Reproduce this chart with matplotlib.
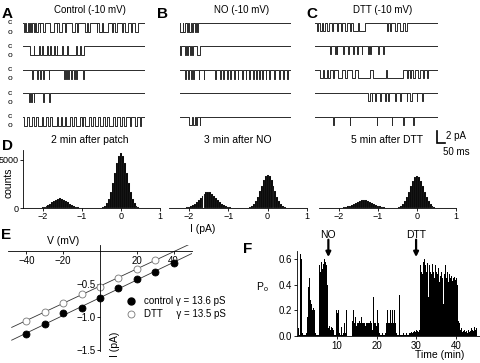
import numpy as np
import matplotlib
matplotlib.use("Agg")
import matplotlib.pyplot as plt
from matplotlib.lines import Line2D

plt.rcParams['font.family'] = ['Liberation Sans', 'DejaVu Sans']
plt.rcParams['mathtext.fontset'] = 'custom'
plt.rcParams['mathtext.rm'] = 'Liberation Sans'
plt.rcParams['mathtext.it'] = 'Liberation Sans:italic'
plt.rcParams['axes.linewidth'] = 0.6

# ---- A-C: single channel sweeps, open intervals in ms (sweep = 750 ms)
sweep_ms = 750
amp_control, amp_no, amp_dtt = -1.55, -1.5, -1.35

control_sweeps = [
    [(4, 12), (20, 29), (37, 41), (49, 57), (65, 71), (82, 90), (102, 106), (126, 133),
     (167, 188), (208, 212), (224, 239), (259, 263), (300, 320), (335, 339), (381, 396),
     (402, 412), (453, 457), (469, 483), (490, 524), (545, 551), (565, 579), (606, 616),
     (626, 647), (667, 673), (688, 708)],
    [(45, 65), (69, 96), (102, 116), (122, 147), (153, 167), (171, 188), (194, 208),
     (212, 239), (245, 269), (275, 326), (330, 351), (357, 375)],
    [(55, 60), (86, 91), (106, 110), (122, 127), (157, 162), (249, 259), (265, 271),
     (279, 284), (294, 300), (314, 319), (326, 331), (371, 376)],
    [(35, 45), (49, 55), (65, 69), (126, 130), (157, 163)],
    [(8, 24), (35, 55), (65, 82), (90, 116), (126, 143), (151, 167), (177, 208), (218, 233),
     (241, 259), (265, 290), (300, 314), (326, 351), (361, 371), (381, 408), (416, 432),
     (443, 463), (473, 494), (504, 518), (530, 555), (565, 575), (596, 606), (620, 636),
     (657, 667), (688, 698), (718, 728)],
]
no_sweeps = [
    [(0, 18), (23, 34), (45, 57), (64, 73), (79, 91), (102, 107), (118, 123)],
    [(0, 5), (34, 41), (50, 54), (68, 75), (84, 88), (118, 132)],
    [(34, 39), (57, 61), (73, 78), (91, 96), (125, 130), (159, 165), (238, 243), (272, 277),
     (291, 297), (318, 326), (341, 346), (363, 370), (390, 395), (420, 426), (443, 448),
     (465, 471), (495, 500), (511, 518), (534, 539), (556, 563), (579, 584), (602, 608),
     (636, 641), (670, 676), (699, 704), (722, 727)],
    [],
    [(64, 79), (91, 102), (109, 118), (132, 136)],
]
dtt_sweeps = [
    [(10, 20), (30, 41), (51, 61), (75, 87), (102, 112), (132, 142), (156, 162), (183, 193),
     (213, 217), (233, 262), (266, 304), (436, 446), (457, 463), (487, 501), (518, 538),
     (548, 562)],
    [(91, 95), (122, 126), (132, 136), (173, 177), (203, 207), (233, 237), (258, 262),
     (284, 288), (325, 329), (335, 339), (386, 390), (416, 420)],
    [(30, 47), (55, 71), (81, 91), (112, 118), (142, 162), (183, 193), (223, 243), (264, 335),
     (355, 430), (436, 538), (558, 568), (578, 584), (599, 609), (629, 639), (660, 666),
     (680, 690)],
    [(325, 335), (345, 350), (365, 370), (396, 401), (426, 431), (447, 452), (487, 492),
     (518, 523), (558, 563), (579, 589), (619, 624), (650, 660)],
    [(112, 115), (213, 216), (376, 379), (467, 470), (538, 541), (599, 602)],
]

# ---- D: amplitude histograms, bins of 0.05 pA from -2.5 to 1.0
hist_start, hist_step = -2.5, 0.05
hist_patch = [0, 0, 0, 0, 0, 1, 3, 7, 15, 31,
              60, 109, 183, 287, 421, 575, 732, 871, 966, 1000,
              966, 871, 732, 575, 421, 287, 183, 109, 60, 31,
              15, 7, 3, 1, 0, 0, 0, 2, 5, 15,
              43, 109, 250, 521, 982, 1683, 2610, 3675, 4690, 5430,
              5700, 5430, 4690, 3675, 2610, 1683, 982, 521, 250, 109,
              43, 15, 5, 2, 0, 0, 0, 0, 0, 0,
              0]
hist_no = [0, 0, 0, 0, 1, 3, 6, 14, 28, 54,
           98, 168, 272, 417, 602, 822, 1061, 1294, 1491, 1624,
           1670, 1624, 1491, 1294, 1061, 822, 602, 417, 272, 168,
           98, 54, 28, 14, 6, 3, 1, 2, 7, 18,
           46, 104, 216, 413, 725, 1167, 1722, 2331, 2893, 3294,
           3440, 3294, 2893, 2331, 1722, 1167, 725, 413, 216, 104,
           46, 18, 7, 2, 0, 0, 0, 0, 0, 0,
           0]
hist_dtt = [0, 0, 0, 0, 0, 0, 0, 1, 3, 5,
            11, 20, 36, 63, 102, 159, 234, 328, 435, 549,
            658, 749, 809, 830, 809, 749, 658, 549, 435, 328,
            234, 159, 102, 63, 36, 20, 11, 7, 10, 18,
            44, 101, 209, 400, 702, 1130, 1667, 2257, 2800, 3189,
            3330, 3189, 2800, 2257, 1667, 1130, 702, 400, 209, 101,
            44, 17, 7, 2, 0, 0, 0, 0, 0, 0,
            0]
hist_titles = ['2 min after patch', '3 min after NO', '5 min after DTT']

# ---- E: I-V
iv_v_control = [-40, -30, -20, -10, 0, 10, 20, 30, 40]
iv_i_control = [-1.26, -1.11, -0.94, -0.87, -0.71, -0.56, -0.42, -0.32, -0.18]
iv_v_dtt = [-40, -30, -20, -10, 0, 10, 20, 30]
iv_i_dtt = [-1.06, -0.92, -0.79, -0.65, -0.54, -0.41, -0.27, -0.14]

# ---- F: Po in 0.25 min bins
po_bin = 0.25
po = [0.06, 0.01, 0.64, 0.60, 0.02, 0.01, 0.01, 0.01, 0.02, 0.15, 0.38, 0.45, 0.28, 0.25, 0.20, 0.22, 0.20, 0.02, 0.01, 0.01,
      0.01, 0.55, 0.50, 0.58, 0.52, 0.56, 0.60, 0.58, 0.55, 0.40, 0.06, 0.08, 0.05, 0.07, 0.06, 0.05, 0.01, 0.01, 0.20, 0.18,
      0.20, 0.02, 0.01, 0.07, 0.01, 0.02, 0.10, 0.02, 0.20, 0.16, 0.18, 0.05, 0.22, 0.18, 0.23, 0.12, 0.20, 0.10, 0.15, 0.08,
      0.10, 0.10, 0.12, 0.10, 0.15, 0.10, 0.10, 0.10, 0.08, 0.10, 0.10, 0.10, 0.10, 0.12, 0.10, 0.05, 0.30, 0.10, 0.10, 0.08,
      0.20, 0.10, 0.02, 0.01, 0.01, 0.02, 0.01, 0.01, 0.02, 0.10, 0.20, 0.10, 0.10, 0.20, 0.10, 0.20, 0.10, 0.20, 0.10, 0.02,
      0.01, 0.01, 0.32, 0.01, 0.01, 0.01, 0.02, 0.01, 0.01, 0.02, 0.01, 0.01, 0.02, 0.02, 0.03, 0.02, 0.03, 0.04, 0.03, 0.05,
      0.04, 0.03, 0.05, 0.55, 0.50, 0.48, 0.58, 0.60, 0.55, 0.50, 0.57, 0.30, 0.55, 0.50, 0.48, 0.56, 0.50, 0.45, 0.55, 0.50,
      0.48, 0.53, 0.42, 0.47, 0.50, 0.45, 0.25, 0.48, 0.55, 0.45, 0.50, 0.42, 0.48, 0.45, 0.47, 0.43, 0.45, 0.46, 0.44, 0.45,
      0.40, 0.12, 0.10, 0.05, 0.06, 0.03, 0.04, 0.05, 0.03, 0.04, 0.02, 0.05, 0.03, 0.04, 0.06, 0.05, 0.04, 0.07, 0.05, 0.06]
events = ['NO', 'DTT']
event_times = [7.8, 29.9]

W, H = 480, 363
fig = plt.figure(figsize=(4.8, 3.63), dpi=100)


def box(x0, y0, x1, y1):
    return fig.add_axes([x0 / W, 1 - y1 / H, (x1 - x0) / W, (y1 - y0) / H])


def ftext(x, y, s, **kw):
    kw.setdefault('ha', 'center')
    kw.setdefault('va', 'center')
    fig.text(x / W, 1 - y / H, s, **kw)


def step_trace(intervals, amp):
    t, y = [0], [0]
    for s, e in intervals:
        t += [s, s, e, e]
        y += [0, amp, amp, 0]
    t.append(sweep_ms)
    y.append(0)
    return np.array(t), np.array(y)


# traces
panels = [(control_sweeps, amp_control, 23, 145, 'Control (-10 mV)', 'A', 2),
          (no_sweeps, amp_no, 180, 291, 'NO (-10 mV)', 'B', 157),
          (dtt_sweeps, amp_dtt, 315, 438, 'DTT (-10 mV)', 'C', 306)]
for sweeps, amp, x0, x1, title, letter, lx in panels:
    ax = box(x0, 17, x1, 131)
    for k, sw in enumerate(sweeps):
        t, y = step_trace(sw, amp)
        ax.plot(t, y - 4 * k, color='#2a2a2a', lw=0.7)
    ax.set_xlim(0, sweep_ms)
    ax.set_ylim(-18.46, 1.03)
    ax.axis('off')
    ftext((x0 + x1) / 2 + 6, 10, title, fontsize=7)
    ftext(lx, 14, letter, fontsize=11, fontweight='bold', ha='left')
    if letter == 'C':
        # scale bar 2 pA / 50 ms
        ax.plot([744, 744, 794], [-18.5, -20.5, -20.5], color='black', lw=1.2,
                clip_on=False, solid_joinstyle='miter')
        ax.text(800, -19.3, '2 pA', fontsize=7, ha='left', va='center')
        ax.text(780, -22.0, '50 ms', fontsize=7, ha='left', va='center')

for k in range(5):
    yb = 23 + 23.4 * k
    ftext(10, yb, 'c', fontsize=6)
    ftext(10, yb + 9, 'o', fontsize=6)

# histograms
hist_x = hist_start + hist_step * np.arange(len(hist_patch))
hist_boxes = [(23, 160, 90), (169, 307, 238), (319, 456, 387)]
for i, (counts, title, (x0, x1, tx)) in enumerate(zip([hist_patch, hist_no, hist_dtt],
                                                      hist_titles, hist_boxes)):
    ax = box(x0, 150, x1, 208)
    ax.patch.set_visible(False)
    ax.bar(hist_x, counts, width=hist_step, color='black', edgecolor='#cccccc', linewidth=0.08)
    ax.set_xlim(-2.5, 1.0)
    ax.set_ylim(0, 6040)
    ax.spines['top'].set_visible(False)
    ax.spines['right'].set_visible(False)
    ax.set_xticks([-2, -1, 0, 1])
    ax.tick_params(labelsize=6.5, length=2, width=0.6, pad=1)
    if i == 0:
        ax.set_yticks([0, 5000])
    else:
        ax.spines['left'].set_visible(False)
        ax.set_yticks([])
    ftext(tx, 140, title, fontsize=7.5)
ftext(2, 146, 'D', fontsize=11, fontweight='bold', ha='left')
ftext(9, 183, 'counts', fontsize=7.5, rotation=90)
ftext(203, 229, 'I (pA)', fontsize=7.5)

# I-V
ax_e = box(8, 245, 192, 351)
fit_v = np.array([-48, 50])
for v, cur, face in [(iv_v_control, iv_i_control, 'black'), (iv_v_dtt, iv_i_dtt, 'white')]:
    slope, icpt = np.polyfit(v, cur, 1)
    ax_e.plot(fit_v, slope * fit_v + icpt, color='#333333', lw=0.6, zorder=1)
    ax_e.plot(v, cur, 'o', ms=5, mfc=face, mec='black' if face == 'black' else '#777777',
              mew=0.6, zorder=2)
ax_e.set_xlim(-50, 50)
ax_e.set_ylim(-1.515, 0.09)
ax_e.spines['top'].set_visible(False)
ax_e.spines['right'].set_visible(False)
ax_e.spines['left'].set_position(('data', 0))
ax_e.spines['bottom'].set_position(('data', 0))
ax_e.set_xticks([-40, -20, 20, 40])
ax_e.set_yticks([-0.5, -1.0, -1.5])
ax_e.yaxis.set_major_formatter('{x:.1f}')
ax_e.tick_params(labelsize=7, length=2, width=0.6, pad=1.5)
ax_e.patch.set_visible(False)
handles = [Line2D([], [], ls='', marker='o', ms=5, mfc='black', mec='black'),
           Line2D([], [], ls='', marker='o', ms=5, mfc='white', mec='#777777', mew=0.6)]
ax_e.legend(handles, ['control \u03b3 = 13.6 pS', 'DTT     \u03b3 = 13.5 pS'],
            loc='upper left', bbox_to_anchor=(126 / W, 1 - 296 / H),
            bbox_transform=fig.transFigure, frameon=False, fontsize=7,
            handlelength=1.0, handletextpad=0.9, labelspacing=0.3,
            borderaxespad=0, borderpad=0)
ftext(63, 241, 'V (mV)', fontsize=7.5)
ftext(115, 344, 'I (pA)', fontsize=7.5, rotation=90)
ftext(1, 235, 'E', fontsize=11, fontweight='bold', ha='left')

# Po vs time
ax_f = box(297, 251, 480, 336)
po_t = po_bin * np.arange(1, len(po) + 1)
ax_f.bar(po_t, po, width=0.24, color='black', linewidth=0)
ax_f.set_xlim(-0.1, 46)
ax_f.set_ylim(0, 0.662)
ax_f.spines['top'].set_visible(False)
ax_f.spines['right'].set_visible(False)
ax_f.set_xticks([10, 20, 30, 40])
ax_f.set_yticks([0, 0.2, 0.4, 0.6])
ax_f.yaxis.set_major_formatter('{x:.1f}')
ax_f.tick_params(labelsize=7, length=2, width=0.6, pad=1.5)
for name, t in zip(events, event_times):
    ax_f.annotate('', xy=(t, 0.615), xytext=(t, 0.75), annotation_clip=False,
                  arrowprops=dict(arrowstyle='-|>', color='black', lw=1.6, mutation_scale=7,
                                  shrinkA=0, shrinkB=0))
    ax_f.text(t, 0.79, name, fontsize=7.5, ha='center', va='center', clip_on=False)
ftext(440, 355, 'Time (min)', fontsize=7.5)
ftext(262, 287, r'P$_\mathrm{o}$', fontsize=7.5)
ftext(243, 249, 'F', fontsize=11, fontweight='bold', ha='left')

fig.savefig('out.png', dpi=100)
